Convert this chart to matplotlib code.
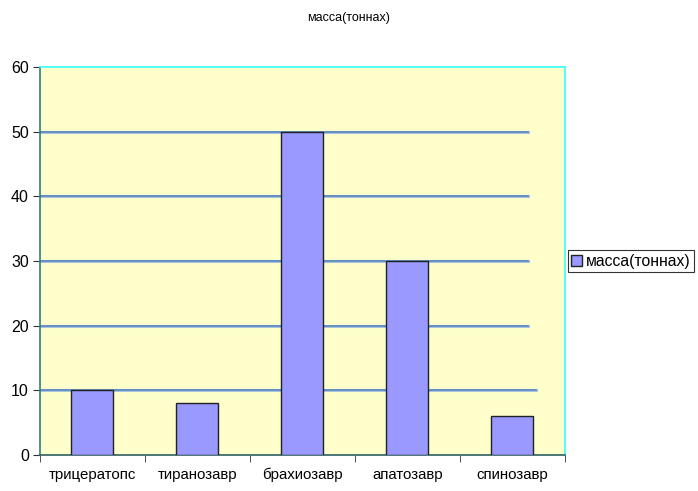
import matplotlib.pyplot as plt
import numpy as np

plt.rcParams['font.family'] = ['Liberation Sans', 'DejaVu Sans']

categories = ['трицератопс', 'тиранозавр', 'брахиозавр', 'апатозавр', 'спинозавр']
mass = [10, 8, 50, 30, 6]
series_name = 'масса(тоннах)'
grid_levels = [10, 20, 30, 40, 50]
grid_ends = [0.945, 0.93, 0.93, 0.93, 0.93]

fig = plt.figure(figsize=(6.98, 4.91), dpi=100)
ax = fig.add_axes([0.0573, 0.0733, 0.7521, 0.7902])
ax.set_facecolor('#FFFFCC')

x = np.arange(len(categories))
for lvl, xe in zip(grid_levels, grid_ends):
    ax.axhline(lvl, xmin=0, xmax=xe, color='#A9C4DC', linewidth=2.2, zorder=1)
    ax.axhline(lvl, xmin=0, xmax=xe, color='#4F81BD', linewidth=1.1, zorder=1)

ax.bar(x, mass, width=0.4, color='#9999FF', edgecolor='#222222', linewidth=1.0,
       label=series_name, zorder=3)

ax.set_xlim(-0.5, len(categories) - 0.5)
ax.set_ylim(0, 60)
ax.set_yticks(range(0, 61, 10))
ax.set_xticks(x)
ax.set_xticklabels(categories, fontsize=10.8)
ax.set_xticks(np.arange(-0.5, len(categories), 1), minor=True)
ax.tick_params(axis='x', which='major', length=0, pad=9)
ax.tick_params(axis='x', which='minor', length=5, direction='out', color='#333333')
ax.tick_params(axis='y', length=5, direction='out', labelsize=11.5, color='#333333', pad=3)

ax.spines['left'].set_color('#2F7F7F')
ax.spines['bottom'].set_color('#2F5F5F')
ax.spines['top'].set_color('#33FFFF')
ax.spines['right'].set_color('#33FFFF')
for s in ax.spines.values():
    s.set_linewidth(1.2)

fig.text(0.5, 0.963, series_name, ha='center', va='center', fontsize=9)

leg = ax.legend(loc='center left', bbox_to_anchor=(0.8138, 0.4684),
                bbox_transform=fig.transFigure, fontsize=11.3, frameon=True,
                fancybox=False, handlelength=0.7, handleheight=0.7,
                handletextpad=0.25, borderpad=0.2, borderaxespad=0)
leg.get_frame().set_edgecolor('#000000')
leg.get_frame().set_linewidth(0.8)

fig.savefig('out.png', dpi=100)
